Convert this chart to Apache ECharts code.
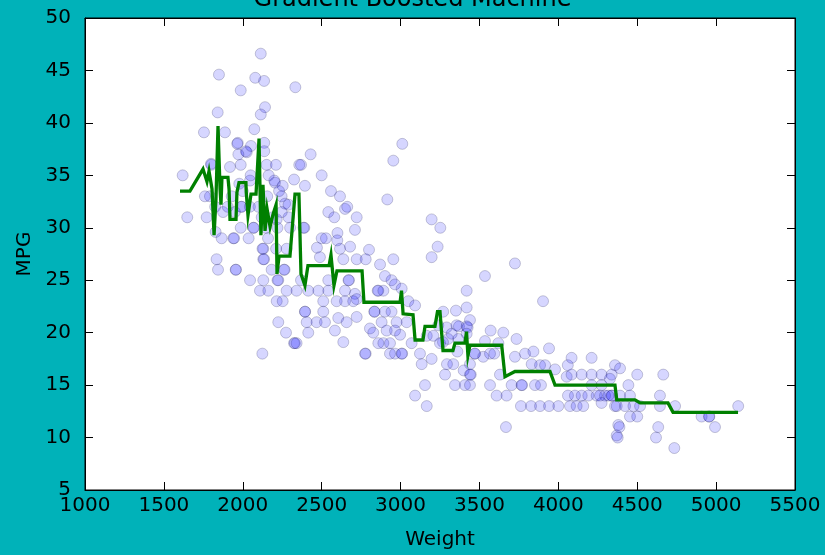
<!DOCTYPE html>
<html>
<head>
<meta charset="utf-8">
<title>Gradient Boosted Machine</title>
<script src="https://cdn.jsdelivr.net/npm/echarts@6/dist/echarts.min.js"></script>
<style>
  html, body { margin: 0; padding: 0; background: #00B2B9; }
  #chart { width: 825px; height: 555px; }
</style>
</head>
<body>
<div id="chart"></div>
<script>
// Observed cars: [weight, mpg]
const carPoints = [
  [2114,46.6],[1849,44.6],[2079,44.3],[2135,44],[1987,43.1],[2333,43.4],[1841,41],[2141,41.5],[2114,40.8],
  [1754,39.1],[1887,39.1],[2073,39.4],[1968,38.1],[1965,38],[2025,37.2],[2020,37.3],[2052,37.8],[2136,38.1],
  [2136,37.3],[1972,37],[1799,36.1],[1800,36],[1919,35.8],[1987,36],[2151,36],[2210,36],[2358,36],[1619,35],
  [2046,34.5],[2204,34.3],[2200,34.5],[2253,34],[2325,34.6],[1978,34.2],
  [1648,31],[1771,31],[1828,29.6],[1866,29],[1940,29],[1945,29],[2037,29],[1987,30],[2067,30],[2070,30],
  [1834,27],[1843,26],[1957,26],[1955,26],[2046,25],[2130,28],[2125,28],[2130,27],[2135,27],[2211,28],
  [2278,28],[2183,26],[2261,26],[2265,26],[2225,25],[2220,25],[2130,25],[2109,24],[2162,24],[2278,24],
  [2215,23],[2253,23],[2225,21],[2274,20],[2325,19],[2330,19],[2124,18],[1792,33],[1993,32],[1990,32],
  [2246,33],[2268,32.3],
  [1825,32],[1875,31.5],[1905,32],[1930,33],[1950,31.5],[2000,33.5],[2045,32],[2100,32],[2155,33],[2190,31],
  [2220,30],[2160,29],[2290,31],[2300,30],[1760,33],[2050,35],[2164,35],[2230,33.5],[2120,31],[2145,30],
  [2290,32.2],[2247,31.5],[2215,30.8],[2385,30],[2500,29],[2600,29.5],
  [3011,38],[2954,36.4],[2430,37],[2369,36],[2500,35],[2394,34],[2559,33.5],[2616,33],[2916,32.7],[2542,31.5],
  [2580,31],[2648,31.8],[2662,32],[2722,31],[2711,29.8],[2390,30],[2527,29],[2599,28.8],[2470,28.1],[2616,28],
  [2680,28.2],[2800,27.9],[2489,27.2],[2637,27],[2722,27],[2779,27],[2954,27],[2870,26.5],[2901,25.4],[2943,25],
  [2965,24.6],[3007,24.2],[2369,25],[2542,25],[2673,25],[2670,25],[2341,24],[2415,24],[2479,24],[2542,24],
  [2648,24],[2711,23.7],[2722,23.2],[2859,24],[2855,24],[2891,24],[2510,23],[2595,23],[2648,23],[2700,23],
  [3049,23],[3092,22.6],[2394,22],[2395,22],[2510,22],[2834,22],[2835,22],[2901,22],[2943,22],[2405,21],
  [2468,21],[2521,21],[2605,21.4],[2658,21],[2722,21.5],[2880,21],[2975,21],[3039,21],[2415,20],[2584,20.2],
  [2806,20.4],[2827,20],[2912,20.2],[2965,20.2],[2997,19.8],[3166,19.7],[2341,19],[2637,19.1],[2859,19],[2891,19],
  [2933,19],[2779,18],[2775,18],[2933,18],[2965,18],[3007,18],[3010,18],[3123,18],[3197,17.5],[3134,17],
  [3282,16],[3155,15],[3092,14],[3166,13],[3197,30.8],[3252,30],[3235,28.2],[3197,27.2],
  [3725,26.6],[3535,25.4],[3419,24],[3351,22.1],[3419,22.4],[3903,23],[3370,20.6],[3419,20.6],[3425,20.5],[3571,20.2],
  [3651,20],[3735,19.4],[3301,19.4],[3535,19.2],[3620,19],[3472,18],[3470,18],[3524,17.7],[3567,18],[3594,18],
  [3725,17.7],[3789,18],[3842,18.2],[3941,18.5],[3334,17],[3440,17],[3440,16],[3445,16],[3630,16],[3831,17],
  [3884,16.9],[3916,16.9],[3979,16.5],[3345,15],[3408,15],[3440,15],[3567,15],[3704,15],[3767,15],[3770,15],
  [3852,15],[3890,15],[3609,14],[3672,14],[3763,13],[3827,13],[3884,13],[3941,13],[4000,13],[3668,11],
  [4060,16.9],[4084,17.6],[4211,17.6],[4053,15.8],[4084,16],[4148,16],[4211,16],[4274,16],[4338,16],[4359,16.9],
  [4061,14],[4105,14],[4148,14],[4190,14],[4243,14],[4296,14],[4338,14],[4340,14],[4074,13],[4116,13],
  [4158,13],[4274,13.3],[4359,13],[4380,11.2],[4370,10.2],[4211,15],[4274,15],
  [4391,16.6],[4500,16],[4665,16],[4444,15],[4327,15.6],[4264,14],[4317,14],[4391,14],[4454,14],[4644,14],
  [4370,13],[4423,13],[4476,13],[4518,13],[4740,13],[4644,13],[4454,12],[4500,12],[4908,12],[4957,12],
  [4955,12],[5140,13],[4387,11],[4633,11],[4993,11],[4376,10],[4619,10],[4735,9],
  [3239,20.7],[3292,20.5],[3355,20.7],[3440,21.2],[3208,19.7],[3269,19.1],[3324,19.9],[3366,19.4],[3419,19.9],
  [3070,19],[3250,19],[3270,22],[3294,17],[3360,18.2],[3400,16.4]
];

// Model prediction sorted by weight: [weight, predicted mpg]
const gbmFit = [
  [1602,33.5],[1665,33.5],[1748,35.6],[1773,34.4],[1786,35.4],[1805,33.7],[1818,29.3],[1830,32.7],[1843,39.7],
  [1856,33.7],[1862,32.2],[1868,34.8],[1906,34.8],[1913,33.7],[1919,30.8],[1957,30.8],[1963,33.4],[1976,34.3],
  [2020,34.3],[2022,33.4],[2033,31.2],[2052,33.2],[2084,33.2],[2103,38.5],[2115,29.3],[2128,34.1],[2141,29.7],
  [2154,31.8],[2173,30.1],[2192,31.3],[2211,32.2],[2217,25.6],[2230,27.3],[2299,27.3],[2331,33.2],[2356,33.2],
  [2369,25.6],[2394,24.5],[2413,26.4],[2547,26.4],[2559,27.4],[2578,24.5],[2597,25.9],[2756,25.9],[2768,22.9],
  [2997,22.9],[3006,24.0],[3016,21.8],[3079,21.7],[3092,19.3],[3142,19.3],[3155,20.6],[3218,20.6],[3234,22.0],
  [3250,22.0],[3269,18.3],[3332,18.3],[3345,19.0],[3408,19.0],[3418,20.1],[3427,17.8],[3440,18.8],[3641,18.8],
  [3662,15.8],[3725,16.3],[3947,16.3],[3979,15.0],[4359,15.0],[4370,13.6],[4486,13.6],[4518,13.3],[4695,13.3],
  [4727,12.4],[5139,12.4]
];

const chartTitle = 'Gradient Boosted Machine';
const xName = 'Weight';
const yName = 'MPG';
const xRange = { min: 1000, max: 5500, step: 500 };
const yRange = { min: 5, max: 50, step: 5 };

const font = 'DejaVu Sans';
const chart = echarts.init(document.getElementById('chart'), null, { renderer: 'canvas' });

function axisBase(r) {
  return {
    type: 'value', min: r.min, max: r.max, interval: r.step,
    splitLine: { show: false },
    axisLine: { show: true, onZero: false, lineStyle: { color: '#000', width: 1 } },
    axisTick: { show: true, inside: true, length: 8, lineStyle: { color: '#000', width: 1 } }
  };
}

const plainNumber = v => String(v);

chart.setOption({
  animation: false,
  backgroundColor: '#00B2B9',
  title: {
    text: chartTitle, left: 'center', top: -17,
    textStyle: { fontFamily: font, fontSize: 24, fontWeight: 'normal', color: '#000' }
  },
  grid: {
    left: 85, right: 30, top: 18, bottom: 63,
    show: true, backgroundColor: '#fff', borderColor: '#000', borderWidth: 1
  },
  xAxis: [
    Object.assign(axisBase(xRange), {
      position: 'bottom', name: xName, nameLocation: 'middle', nameGap: 40,
      nameTextStyle: { fontFamily: font, fontSize: 20, color: '#000' },
      axisLabel: { fontFamily: font, fontSize: 20, color: '#000', margin: 6, formatter: plainNumber }
    }),
    Object.assign(axisBase(xRange), { position: 'top', axisLabel: { show: false } })
  ],
  yAxis: [
    Object.assign(axisBase(yRange), {
      position: 'left', name: yName, nameLocation: 'middle', nameGap: 46,
      nameTextStyle: { fontFamily: font, fontSize: 20, color: '#000' },
      axisLabel: { fontFamily: font, fontSize: 20, color: '#000', margin: 14, formatter: plainNumber }
    }),
    Object.assign(axisBase(yRange), { position: 'right', axisLabel: { show: false } })
  ],
  series: [
    {
      type: 'scatter', xAxisIndex: 0, yAxisIndex: 0,
      data: carPoints, symbol: 'circle', symbolSize: 11,
      itemStyle: { color: 'rgba(0,0,255,0.2)', borderColor: 'rgba(0,0,60,0.25)', borderWidth: 1 },
      z: 2
    },
    {
      type: 'line', xAxisIndex: 0, yAxisIndex: 0,
      data: gbmFit, showSymbol: false, symbol: 'none',
      lineStyle: { color: '#008000', width: 3.3, join: 'miter' },
      z: 3
    }
  ]
});
</script>
</body>
</html>
